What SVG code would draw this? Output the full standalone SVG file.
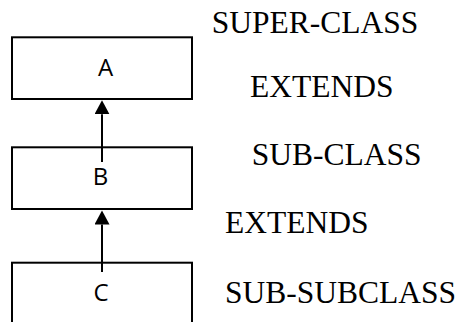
<svg xmlns="http://www.w3.org/2000/svg" width="459" height="322" viewBox="0 0 459 322">
  <style>
    .box { fill: #ffffff; stroke: #000000; stroke-width: 2; }
    .lbl { font-family: "Open Sans", "Liberation Sans", sans-serif; font-size: 24px; fill: #000000; text-anchor: middle; }
    .note { font-family: "Liberation Serif", "Times New Roman", serif; font-size: 31.5px; fill: #000000; }
    .conn { stroke: #000000; stroke-width: 2; fill: none; }
  </style>
  <defs>
    <marker id="arrow" markerUnits="userSpaceOnUse" markerWidth="15" markerHeight="16" refX="0" refY="7.5" orient="auto">
      <path d="M0,0 L14,7.5 L0,15 Z" fill="#000000"/>
    </marker>
  </defs>
  <rect width="459" height="322" fill="#ffffff"/>
  <g id="node-A">
    <rect class="box" x="12" y="37.3" width="180" height="61.7"/>
    <text class="lbl" x="105.5" y="76">A</text>
  </g>
  <g id="node-B">
    <rect class="box" x="12" y="147.3" width="180" height="61.7"/>
    <text class="lbl" x="100.5" y="185">B</text>
  </g>
  <g id="node-C">
    <rect class="box" x="12" y="262.7" width="180" height="70"/>
    <text class="lbl" x="101" y="301">C</text>
  </g>
  <g id="connectors">
    <path class="conn" d="M102,162 L102,114.3" marker-end="url(#arrow)"/>
    <path class="conn" d="M102,272 L102,224.5" marker-end="url(#arrow)"/>
  </g>
  <g id="notes">
    <text class="note" x="211.7" y="32.7">SUPER-CLASS</text>
    <text class="note" x="250" y="96.7">EXTENDS</text>
    <text class="note" x="251.7" y="165">SUB-CLASS</text>
    <text class="note" x="225" y="233.3">EXTENDS</text>
    <text class="note" x="225" y="303.3">SUB-SUBCLASS</text>
  </g>
</svg>
